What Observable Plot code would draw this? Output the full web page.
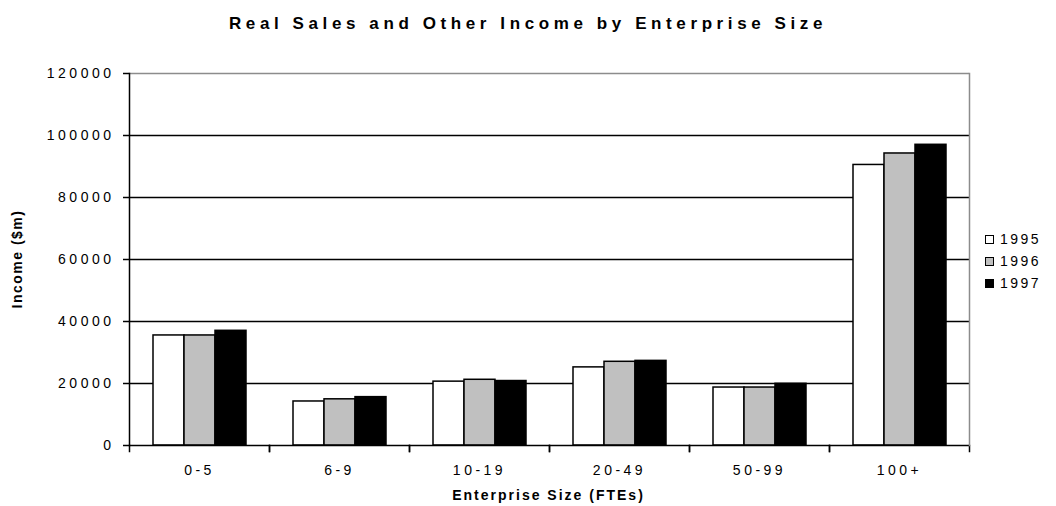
<!DOCTYPE html>
<html><head><meta charset="utf-8">
<script src="https://cdn.jsdelivr.net/npm/d3@7"></script>
<script src="https://cdn.jsdelivr.net/npm/@observablehq/plot@0.6"></script>
<style>
body{margin:0;background:#fff;font-family:"Liberation Sans",Arial,sans-serif;color:#000;}
#wrap{position:relative;width:1056px;height:506px;overflow:hidden;background:#fff;}
#wrap svg{position:absolute;left:0;top:0;}
.title{position:absolute;left:0;top:14px;width:1056px;text-align:center;font-weight:bold;font-size:17px;letter-spacing:4.6px;line-height:19px;}
.ytitle{position:absolute;left:-83px;top:250px;width:200px;text-align:center;font-weight:bold;font-size:14px;letter-spacing:1.5px;line-height:18px;transform:rotate(-90deg);}
.xtitle{position:absolute;left:126px;top:486px;width:845px;text-align:center;font-weight:bold;font-size:14px;letter-spacing:2px;line-height:18px;}
.legend{position:absolute;left:985px;top:228px;}
.legend .item{display:flex;align-items:center;height:22px;font-size:14px;letter-spacing:2.5px;}
.legend .sw{width:9px;height:9px;border:1px solid #000;box-sizing:border-box;margin-right:6px;}
</style></head><body><div id="wrap"></div>
<script>
const categories = ["0-5", "6-9", "10-19", "20-49", "50-99", "100+"];
const years = ["1995", "1996", "1997"];
const income1995 = [35500, 14200, 20600, 25200, 18700, 90500];
const income1996 = [35500, 14900, 21200, 27000, 18700, 94200];
const income1997 = [37000, 15600, 20800, 27300, 19900, 97000];
const yTicks = [0, 20000, 40000, 60000, 80000, 100000, 120000];
const gridTicks = [20000, 40000, 60000, 80000, 100000];
const colors = ["#ffffff", "#c0c0c0", "#000000"];

const series = [income1995, income1996, income1997];
const rows = categories.flatMap((c, i) => years.map((y, j) => ({category: c, year: y, value: series[j][i]})));

const chart = Plot.plot({
  width: 1056, height: 506,
  marginTop: 73, marginBottom: 61, marginLeft: 126, marginRight: 85,
  style: {fontFamily: '"Liberation Sans", Arial, sans-serif', fontSize: "14px", color: "black", background: "white", letterSpacing: "3.5px", overflow: "visible"},
  fx: {domain: categories, padding: 0, label: null},
  x: {domain: years, paddingInner: 0, paddingOuter: 0.756, axis: null},
  y: {domain: [0, 120000], label: null},
  color: {domain: years, range: colors},
  marks: [
    Plot.gridY(gridTicks, {stroke: "black", strokeOpacity: 1, strokeWidth: 1.5}),
    Plot.ruleY([120000], {stroke: "#8c8c8c", strokeWidth: 1.5}),
    Plot.barY(rows, {fx: "category", x: "year", y: "value", fill: "year", stroke: "black", strokeWidth: 1.5, inset: 0}),
    Plot.ruleY([0], {stroke: "black", strokeWidth: 1.5}),
    Plot.frame({anchor: "left", stroke: "black", strokeWidth: 1.5, insetTop: 372, insetBottom: -6}),
    Plot.frame({anchor: "right", stroke: "black", strokeWidth: 1.5, insetTop: 372, insetBottom: -6}),
    Plot.frame({anchor: "left", fx: () => categories[0], stroke: "black", strokeWidth: 1.5}),
    Plot.frame({anchor: "right", fx: () => categories[categories.length - 1], stroke: "#8c8c8c", strokeWidth: 1.5}),
    Plot.axisY({ticks: yTicks, tickSize: 6, tickPadding: 9, tickFormat: d3.format("d"), fontSize: 14, label: null, strokeWidth: 1.5}),
    Plot.axisFx({anchor: "bottom", tickSize: 0, tickPadding: 20, fontSize: 14, label: null})
  ]
});

const wrap = document.getElementById("wrap");
wrap.appendChild(chart);

const t = document.createElement("div");
t.className = "title";
t.textContent = "Real Sales and Other Income by Enterprise Size";
wrap.appendChild(t);

const yt = document.createElement("div");
yt.className = "ytitle";
yt.textContent = "Income ($m)";
wrap.appendChild(yt);

const xt = document.createElement("div");
xt.className = "xtitle";
xt.textContent = "Enterprise Size (FTEs)";
wrap.appendChild(xt);

const cs = chart.scale("color");
const lg = document.createElement("div");
lg.className = "legend";
cs.domain.forEach((d, i) => {
  const item = document.createElement("div");
  item.className = "item";
  const sw = document.createElement("span");
  sw.className = "sw";
  sw.style.background = cs.range[i];
  const lab = document.createElement("span");
  lab.textContent = d;
  item.appendChild(sw);
  item.appendChild(lab);
  lg.appendChild(item);
});
wrap.appendChild(lg);
</script></body></html>
